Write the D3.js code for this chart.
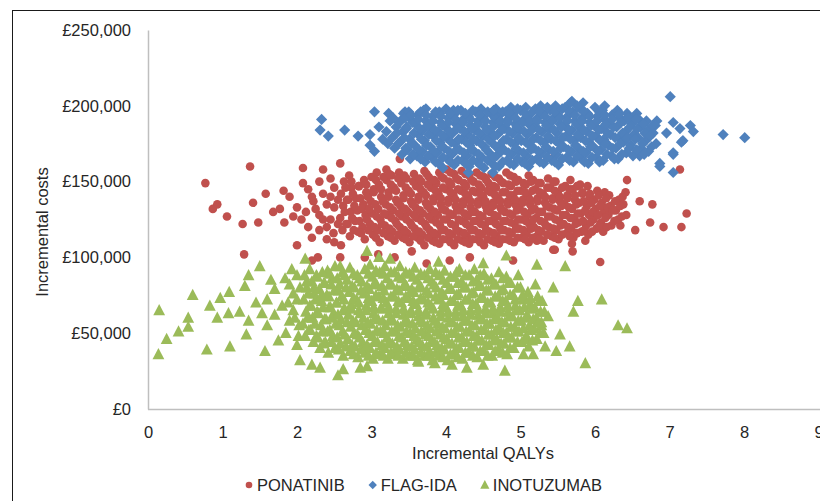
<!DOCTYPE html>
<html><head><meta charset="utf-8">
<script src="https://cdn.jsdelivr.net/npm/d3@7"></script>
<style>
html,body{margin:0;padding:0;background:#fff;}
svg text{font-family:"Liberation Sans",Arial,sans-serif;fill:#262626;}
</style></head>
<body><svg id="chart" width="820" height="501"></svg>
<script>
// Costs are in £ thousands
const xTicks = [0,1,2,3,4,5,6,7,8,9];
const yTicks = [0,50,100,150,200,250];
const seriesNames = ["PONATINIB","FLAG-IDA","INOTUZUMAB"];
const seriesColors = ["#C0504D","#4F81BD","#9BBB59"];

const ponatinib = [
[0.77,149],[1.37,160],[0.87,132],[0.93,135],[1.06,127],[1.27,122],[1.48,123],[1.29,102],[1.41,136],[1.58,142],[1.68,130],[1.77,132],[1.82,144],[1.83,123],[1.95,127],[2.08,159],[2.35,158],[2.58,162],[2.2,113],[2.0,108],[2.49,116],[2.59,108],[2.58,100],[2.06,125],[2.08,149],[2.22,137],[2.28,100],[2.91,100],[3.09,102],[3.31,100],[2.2,98],
[7.23,129],[7.16,120],[7.14,158],[6.92,120],[6.77,135],[6.74,123],[6.54,118],[6.43,151],[6.6,137],[6.34,121],[5.42,165],[5.75,116],[5.69,109],[5.87,111],[5.22,111],[5.44,105],[6.07,97],[3.38,165],[3.2,158],[4.05,98],[4.9,98],[5.46,105],[5.7,104],[3.74,96],[3.54,104],[4.32,100],
[1.9,140],[2.0,133],[2.15,145],[2.3,128],[2.4,120],[2.3,150],[2.45,140],[2.5,133],[2.45,125],
[2.15,120],[2.25,132],[2.35,142],[2.4,112],[2.5,146],[2.55,122],[2.2,140],[2.35,125],[2.5,110],[2.45,152],[2.3,118],[2.55,138],[2.12,130],[2.4,135],
[2.61,118],[2.58,126],[2.62,134],[2.59,142],[2.63,150],
[2.71,114],[2.68,122],[2.72,130],[2.69,138],[2.73,146],[2.7,154],
[2.82,117],[2.78,124],[2.81,131],[2.79,139],[2.83,147],
[2.91,112],[2.88,120],[2.92,128],[2.89,135],[2.93,143],[2.9,151],
[3.02,115],[2.98,122],[3.01,129],[2.99,137],[3.03,145],[3.0,153],
[3.11,110],[3.08,118],[3.12,125],[3.09,132],[3.13,140],[3.1,148],[3.07,156],
[3.22,114],[3.18,121],[3.21,128],[3.19,135],[3.23,143],[3.2,151],
[3.31,111],[3.28,117],[3.32,124],[3.29,131],[3.33,138],[3.3,146],[3.27,154],
[3.42,113],[3.38,120],[3.41,127],[3.39,134],[3.43,141],[3.4,149],[3.37,156],
[3.51,110],[3.48,116],[3.52,123],[3.49,130],[3.53,137],[3.5,144],[3.47,152],
[3.62,113],[3.58,119],[3.61,126],[3.59,133],[3.63,140],[3.6,147],[3.57,155],
[3.71,108],[3.68,115],[3.72,122],[3.69,129],[3.73,136],[3.7,143],[3.67,150],[3.71,157],
[3.82,111],[3.78,118],[3.81,125],[3.79,132],[3.83,139],[3.8,146],[3.77,153],
[3.91,109],[3.88,115],[3.92,121],[3.89,128],[3.93,135],[3.9,142],[3.87,149],[3.91,156],
[4.02,112],[3.98,118],[4.01,125],[3.99,131],[4.03,138],[4.0,145],[3.97,152],[4.01,158],
[4.11,108],[4.08,115],[4.12,121],[4.09,128],[4.13,134],[4.1,141],[4.07,148],[4.11,155],
[4.22,111],[4.18,117],[4.21,124],[4.19,131],[4.23,137],[4.2,144],[4.17,151],[4.21,157],
[4.31,109],[4.28,114],[4.32,120],[4.29,127],[4.33,133],[4.3,140],[4.27,147],[4.31,154],
[4.42,112],[4.38,118],[4.41,124],[4.39,130],[4.43,137],[4.4,143],[4.37,150],[4.41,156],
[4.51,108],[4.48,115],[4.52,121],[4.49,127],[4.53,134],[4.5,140],[4.47,146],[4.51,153],
[4.62,111],[4.58,117],[4.61,124],[4.59,130],[4.63,136],[4.6,143],[4.57,149],[4.61,155],
[4.71,109],[4.68,114],[4.72,120],[4.69,127],[4.73,133],[4.7,139],[4.67,146],[4.71,152],
[4.82,112],[4.78,118],[4.81,124],[4.79,130],[4.83,137],[4.8,143],[4.77,149],[4.81,156],
[4.91,110],[4.88,116],[4.92,122],[4.89,128],[4.93,135],[4.9,141],[4.87,147],[4.91,153],
[5.02,113],[4.98,119],[5.01,125],[4.99,132],[5.03,138],[5.0,144],[4.97,151],
[5.11,110],[5.08,116],[5.12,122],[5.09,128],[5.13,135],[5.1,141],[5.07,148],[5.11,154],
[5.22,114],[5.18,120],[5.21,126],[5.19,132],[5.23,139],[5.2,145],[5.17,151],
[5.31,111],[5.28,117],[5.32,123],[5.29,130],[5.33,136],[5.3,142],[5.27,149],
[5.42,114],[5.38,120],[5.41,127],[5.39,133],[5.43,139],[5.4,146],[5.37,152],
[5.51,112],[5.48,118],[5.52,124],[5.49,131],[5.53,137],[5.5,143],[5.47,150],
[5.62,116],[5.58,122],[5.61,128],[5.59,135],[5.63,141],[5.6,147],
[5.71,113],[5.68,119],[5.72,126],[5.69,132],[5.73,138],[5.7,145],[5.67,151],
[5.82,117],[5.78,123],[5.81,129],[5.79,136],[5.83,142],[5.8,148],
[5.91,115],[5.88,121],[5.92,128],[5.89,134],[5.93,140],[5.9,147],
[6.02,119],[5.98,125],[6.01,132],[5.99,138],[6.03,144],
[6.11,117],[6.08,123],[6.12,130],[6.09,136],[6.13,143],
[6.22,121],[6.18,128],[6.21,134],[6.19,141],
[6.31,125],[6.28,131],[6.32,138],
[6.42,128],[6.38,135],[6.41,143],
// dense core, second layer
[2.66,122],[2.64,130],[2.67,138],[2.65,146],
[2.76,118],[2.74,126],[2.77,134],[2.75,142],[2.73,150],
[2.86,116],[2.84,124],[2.87,132],[2.85,139],[2.83,147],
[2.96,118],[2.94,125],[2.97,132],[2.95,140],[2.93,148],
[3.06,113],[3.04,120],[3.07,127],[3.05,135],[3.03,143],[3.06,151],
[3.16,116],[3.14,122],[3.17,129],[3.15,137],[3.13,145],[3.16,153],
[3.26,113],[3.24,119],[3.27,126],[3.25,133],[3.23,140],[3.26,148],[3.24,155],
[3.36,115],[3.34,122],[3.37,129],[3.35,136],[3.33,144],[3.36,152],
[3.46,112],[3.44,118],[3.47,125],[3.45,132],[3.43,139],[3.46,146],[3.44,154],
[3.56,114],[3.54,121],[3.57,128],[3.55,135],[3.53,142],[3.56,150],
[3.66,111],[3.64,117],[3.67,124],[3.65,131],[3.63,138],[3.66,145],[3.64,152],
[3.76,113],[3.74,120],[3.77,127],[3.75,134],[3.73,141],[3.76,148],[3.74,155],
[3.86,110],[3.84,116],[3.87,123],[3.85,130],[3.83,137],[3.86,144],[3.84,151],
[3.96,112],[3.94,118],[3.97,125],[3.95,132],[3.93,139],[3.96,146],[3.94,153],
[4.06,110],[4.04,116],[4.07,122],[4.05,129],[4.03,136],[4.06,143],[4.04,150],[4.06,156],
[4.16,112],[4.14,118],[4.17,125],[4.15,131],[4.13,138],[4.16,145],[4.14,152],
[4.26,110],[4.24,116],[4.27,122],[4.25,129],[4.23,135],[4.26,142],[4.24,149],[4.26,155],
[4.36,112],[4.34,118],[4.37,124],[4.35,130],[4.33,137],[4.36,144],[4.34,151],
[4.46,110],[4.44,116],[4.47,122],[4.45,128],[4.43,135],[4.46,142],[4.44,148],[4.46,154],
[4.56,112],[4.54,118],[4.57,124],[4.55,131],[4.53,137],[4.56,144],[4.54,151],
[4.66,110],[4.64,116],[4.67,122],[4.65,128],[4.63,134],[4.66,141],[4.64,147],[4.66,153],
[4.76,112],[4.74,118],[4.77,124],[4.75,131],[4.73,137],[4.76,143],[4.74,150],
[4.86,111],[4.84,117],[4.87,123],[4.85,129],[4.83,135],[4.86,141],[4.84,148],[4.86,154],
[4.96,113],[4.94,119],[4.97,125],[4.95,131],[4.93,138],[4.96,144],[4.94,150],
[5.06,112],[5.04,118],[5.07,124],[5.05,130],[5.03,136],[5.06,143],[5.04,149],
[5.16,113],[5.14,119],[5.17,125],[5.15,131],[5.13,138],[5.16,144],[5.14,150],
[5.26,112],[5.24,118],[5.27,124],[5.25,130],[5.23,137],[5.26,143],[5.24,149],
[5.36,115],[5.34,121],[5.37,127],[5.35,134],[5.33,140],[5.36,146],
[5.46,113],[5.44,119],[5.47,125],[5.45,132],[5.43,138],[5.46,144],[5.44,150],
[5.56,115],[5.54,121],[5.57,128],[5.55,134],[5.53,140],[5.56,146],
[5.66,114],[5.64,120],[5.67,126],[5.65,133],[5.63,139],[5.66,145],
[5.76,116],[5.74,122],[5.77,129],[5.75,135],[5.73,141],[5.76,147],
[5.86,118],[5.84,124],[5.87,131],[5.85,137],[5.83,143],
[5.96,117],[5.94,123],[5.97,130],[5.95,136],[5.93,142],
[6.06,121],[6.04,128],[6.07,134],[6.05,141],
[6.16,120],[6.14,126],[6.17,133],[6.15,139],
[6.26,124],[6.24,131],[6.27,137],
[6.36,127],[6.34,134],[6.37,140]
];

const flagIda = [
[2.33,191],[2.31,184],[2.42,180],[2.64,184],[2.82,180],[2.98,181],[3.04,196],[3.04,170],[3.23,195],[3.45,196],[3.73,198],[3.92,195],[4.1,197],[7.01,206],[7.72,181],[8.01,179],[7.28,187],[7.32,183],[7.05,189],[7.18,177],[7.05,169],[6.87,162],[6.6,167],[5.84,202],[5.69,203],[6.13,200],[6.56,195],[6.83,190],[6.96,182],[7.14,185],[3.96,159],[4.3,156],[4.63,156],[7.05,156],[7.05,168],[7.16,176],[6.87,160],
[3.1,186],[3.15,178],[3.2,183],[3.22,175],[3.25,190],[2.98,174],
[3.31,172],[3.28,179],[3.33,186],[3.29,192],
[3.41,168],[3.38,176],[3.42,183],[3.39,190],[3.43,195],
[3.52,165],[3.48,171],[3.51,178],[3.47,185],[3.53,191],[3.5,196],
[3.61,167],[3.58,174],[3.63,181],[3.59,188],[3.62,194],
[3.72,163],[3.68,170],[3.71,177],[3.69,184],[3.73,190],[3.7,197],
[3.81,166],[3.79,173],[3.83,180],[3.78,187],[3.82,193],
[3.9,162],[3.88,169],[3.92,176],[3.89,183],[3.93,189],[3.91,196],
[4.02,165],[3.98,172],[4.01,179],[3.99,186],[4.03,192],[4.0,198],
[4.11,161],[4.08,168],[4.12,175],[4.09,182],[4.13,188],[4.1,194],
[4.22,164],[4.18,171],[4.21,178],[4.19,185],[4.23,191],[4.2,197],
[4.31,160],[4.28,167],[4.32,174],[4.29,181],[4.33,187],[4.3,193],
[4.42,163],[4.38,170],[4.41,177],[4.39,184],[4.43,190],[4.4,196],
[4.51,159],[4.48,166],[4.52,173],[4.49,180],[4.53,186],[4.5,192],[4.47,198],
[4.62,162],[4.58,169],[4.61,176],[4.59,183],[4.63,189],[4.6,195],
[4.71,160],[4.68,167],[4.72,174],[4.69,181],[4.73,187],[4.7,193],[4.67,198],
[4.82,164],[4.78,171],[4.81,178],[4.79,185],[4.83,191],[4.8,196],
[4.91,161],[4.88,168],[4.92,175],[4.89,182],[4.93,188],[4.9,194],[4.87,199],
[5.02,163],[4.98,170],[5.01,177],[4.99,184],[5.03,190],[5.0,197],
[5.11,160],[5.08,167],[5.12,174],[5.09,181],[5.13,187],[5.1,193],[5.07,199],
[5.22,165],[5.18,172],[5.21,179],[5.19,186],[5.23,192],[5.2,198],
[5.31,162],[5.28,169],[5.32,176],[5.29,183],[5.33,189],[5.3,195],[5.27,200],
[5.42,164],[5.38,171],[5.41,178],[5.39,185],[5.43,191],[5.4,197],
[5.51,161],[5.48,168],[5.52,175],[5.49,182],[5.53,188],[5.5,194],[5.47,200],
[5.62,166],[5.58,173],[5.61,180],[5.59,187],[5.63,193],[5.6,199],
[5.71,163],[5.68,170],[5.72,177],[5.69,184],[5.73,190],[5.7,196],[5.67,202],
[5.82,165],[5.78,172],[5.81,179],[5.79,186],[5.83,192],[5.8,198],
[5.91,162],[5.88,169],[5.92,176],[5.89,183],[5.93,189],[5.9,195],
[6.02,166],[5.98,173],[6.01,180],[5.99,187],[6.03,193],[6.0,199],
[6.11,164],[6.08,171],[6.12,178],[6.09,185],[6.13,191],[6.1,197],
[6.22,167],[6.18,174],[6.21,181],[6.19,188],[6.23,194],
[6.31,165],[6.28,172],[6.32,179],[6.29,186],[6.33,192],[6.3,197],
[6.42,169],[6.38,176],[6.41,183],[6.39,190],[6.43,195],
[6.51,167],[6.48,174],[6.52,181],[6.49,188],[6.53,193],
[6.62,172],[6.58,179],[6.61,186],[6.59,191],
[6.72,170],[6.68,177],[6.71,184],[6.69,190],
[6.82,175],[6.78,182],[6.81,187],
// dense core, second layer
[3.36,175],[3.34,182],[3.37,189],
[3.46,172],[3.44,179],[3.47,186],[3.45,192],
[3.56,168],[3.54,175],[3.57,182],[3.55,189],[3.53,194],
[3.66,165],[3.64,171],[3.67,178],[3.65,185],[3.63,191],[3.66,196],
[3.76,167],[3.74,174],[3.77,181],[3.75,187],[3.73,194],
[3.86,163],[3.84,170],[3.87,177],[3.85,184],[3.83,190],[3.86,196],
[3.96,166],[3.94,173],[3.97,180],[3.95,187],[3.93,193],
[4.06,163],[4.04,170],[4.07,176],[4.05,183],[4.03,189],[4.06,195],
[4.16,164],[4.14,171],[4.17,178],[4.15,185],[4.13,191],[4.16,197],
[4.26,162],[4.24,169],[4.27,176],[4.25,183],[4.23,189],[4.26,195],
[4.36,164],[4.34,171],[4.37,178],[4.35,185],[4.33,191],[4.36,197],
[4.46,161],[4.44,168],[4.47,175],[4.45,182],[4.43,188],[4.46,194],
[4.56,164],[4.54,171],[4.57,178],[4.55,184],[4.53,190],[4.56,196],
[4.66,160],[4.64,166],[4.67,173],[4.65,180],[4.63,186],[4.66,192],[4.64,197],
[4.76,163],[4.74,170],[4.77,177],[4.75,184],[4.73,190],[4.76,196],
[4.86,162],[4.84,169],[4.87,176],[4.85,183],[4.83,189],[4.86,195],
[4.96,165],[4.94,172],[4.97,179],[4.95,186],[4.93,192],[4.96,198],
[5.06,162],[5.04,169],[5.07,176],[5.05,183],[5.03,189],[5.06,195],
[5.16,164],[5.14,171],[5.17,178],[5.15,184],[5.13,190],[5.16,196],
[5.26,163],[5.24,170],[5.27,177],[5.25,184],[5.23,190],[5.26,196],
[5.36,166],[5.34,173],[5.37,180],[5.35,187],[5.33,193],[5.36,199],
[5.46,163],[5.44,170],[5.47,177],[5.45,184],[5.43,190],[5.46,196],
[5.56,165],[5.54,172],[5.57,179],[5.55,186],[5.53,192],[5.56,198],
[5.66,164],[5.64,171],[5.67,178],[5.65,184],[5.63,190],[5.66,196],
[5.76,167],[5.74,174],[5.77,181],[5.75,188],[5.73,194],[5.76,200],
[5.86,163],[5.84,170],[5.87,177],[5.85,184],[5.83,190],[5.86,196],
[5.96,166],[5.94,173],[5.97,180],[5.95,187],[5.93,193],
[6.06,163],[6.04,170],[6.07,177],[6.05,184],[6.03,190],[6.06,196],
[6.16,168],[6.14,175],[6.17,182],[6.15,188],[6.13,194],
[6.26,165],[6.24,172],[6.27,179],[6.25,186],[6.23,191],
[6.36,168],[6.34,175],[6.37,182],[6.35,189],[6.33,195],
[6.46,172],[6.44,179],[6.47,186],[6.45,192],
[6.56,171],[6.54,178],[6.57,185],[6.55,191],
[6.66,168],[6.64,175],[6.67,182],[6.65,188],
[6.76,173],[6.74,180],[6.77,187]
];

const inotuzumab = [
[0.15,65],[0.14,36],[0.25,46],[0.41,51],[0.54,54],[0.54,60],[0.6,75],[0.79,39],[0.83,68],[0.93,60],[1.08,63],[1.1,41],[1.09,77],[1.23,64],[1.3,81],[1.35,88],[1.5,94],[1.35,58],[1.32,49],[1.53,63],[1.57,38],[1.7,79],[1.84,86],[1.93,92],[2.11,99],[2.04,32],[2.2,29],[2.31,27],[2.55,22],[2.62,26],[2.85,27],[2.94,28],[2.58,94],
[6.43,53],[6.31,55],[6.09,72],[5.87,30],[5.6,94],[5.22,95],[4.81,101],[5.77,71],[5.66,41],[5.48,38],[5.53,49],[5.33,41],[5.17,36],[5.04,36],[4.79,25],[4.5,29],[4.28,27],[4.08,29],[3.85,30],[3.63,31],[5.71,64],[5.37,61],[5.28,55],[5.44,80],[2.94,104],[3.1,100],
[1.45,70],[1.6,55],[1.65,85],[1.75,45],[1.8,68],[1.9,58],[1.95,76],[1.7,62],[1.85,50],[2.0,88],[2.0,42],[1.6,72],[0.97,73],[3.25,99],[3.9,97],[4.5,96],
[1.95,65],[2.0,72],[2.03,55],[1.9,82],[2.02,48],[1.97,60],[2.04,80],[1.88,70],
[2.11,48],[2.08,56],[2.12,64],[2.09,72],[2.13,80],[2.1,88],
[2.22,44],[2.18,52],[2.21,60],[2.19,68],[2.23,76],[2.2,84],[2.17,92],
[2.31,40],[2.28,47],[2.32,55],[2.29,63],[2.33,71],[2.3,79],[2.27,87],
[2.42,37],[2.38,44],[2.41,51],[2.39,59],[2.43,67],[2.4,75],[2.37,83],[2.41,91],
[2.51,40],[2.48,48],[2.52,56],[2.49,63],[2.53,70],[2.5,78],[2.47,86],[2.51,94],
[2.62,35],[2.58,43],[2.61,51],[2.59,59],[2.63,66],[2.6,74],[2.57,82],[2.61,90],
[2.71,38],[2.68,46],[2.72,54],[2.69,62],[2.73,69],[2.7,77],[2.67,85],[2.71,93],
[2.82,34],[2.78,41],[2.81,49],[2.79,57],[2.83,65],[2.8,72],[2.77,80],[2.81,88],
[2.91,37],[2.88,44],[2.92,52],[2.89,60],[2.93,68],[2.9,76],[2.87,84],[2.91,92],
[3.02,33],[2.98,40],[3.01,48],[2.99,56],[3.03,63],[3.0,71],[2.97,79],[3.01,87],[2.98,95],
[3.11,36],[3.08,44],[3.12,51],[3.09,59],[3.13,67],[3.1,74],[3.07,82],[3.11,90],
[3.22,33],[3.18,40],[3.21,47],[3.19,55],[3.23,63],[3.2,70],[3.17,78],[3.21,86],[3.18,94],
[3.31,36],[3.28,43],[3.32,51],[3.29,58],[3.33,66],[3.3,74],[3.27,82],[3.31,90],
[3.42,33],[3.38,39],[3.41,47],[3.39,54],[3.43,62],[3.4,70],[3.37,78],[3.41,86],[3.38,94],
[3.51,35],[3.48,42],[3.52,50],[3.49,57],[3.53,65],[3.5,73],[3.47,81],[3.51,89],
[3.62,32],[3.58,39],[3.61,46],[3.59,53],[3.63,61],[3.6,69],[3.57,77],[3.61,85],[3.58,93],
[3.71,35],[3.68,42],[3.72,49],[3.69,57],[3.73,64],[3.7,72],[3.67,80],[3.71,88],
[3.82,32],[3.78,38],[3.81,45],[3.79,53],[3.83,60],[3.8,68],[3.77,76],[3.81,84],[3.78,92],
[3.91,35],[3.88,42],[3.92,49],[3.89,56],[3.93,64],[3.9,72],[3.87,80],[3.91,88],
[4.02,32],[3.98,39],[4.01,46],[3.99,53],[4.03,60],[4.0,67],[3.97,75],[4.01,83],[3.98,91],
[4.11,36],[4.08,43],[4.12,50],[4.09,57],[4.13,64],[4.1,71],[4.07,79],[4.11,87],
[4.22,33],[4.18,40],[4.21,47],[4.19,54],[4.23,61],[4.2,68],[4.17,76],[4.21,84],[4.18,92],
[4.31,37],[4.28,44],[4.32,51],[4.29,58],[4.33,65],[4.3,72],[4.27,80],[4.31,88],
[4.42,34],[4.38,41],[4.41,48],[4.39,55],[4.43,62],[4.4,69],[4.37,77],[4.41,85],[4.38,92],
[4.51,38],[4.48,45],[4.52,52],[4.49,59],[4.53,66],[4.5,73],[4.47,81],[4.51,89],
[4.62,35],[4.58,42],[4.61,49],[4.59,56],[4.63,63],[4.6,70],[4.57,78],[4.61,86],
[4.71,39],[4.68,46],[4.72,53],[4.69,60],[4.73,67],[4.7,74],[4.67,82],[4.71,90],
[4.82,36],[4.78,43],[4.81,50],[4.79,57],[4.83,64],[4.8,71],[4.77,79],[4.81,87],
[4.91,40],[4.88,47],[4.92,54],[4.89,61],[4.93,68],[4.9,75],[4.87,83],
[5.02,44],[4.98,51],[5.01,58],[4.99,65],[5.03,72],[5.0,80],[4.97,88],
[5.11,41],[5.08,48],[5.12,55],[5.09,62],[5.13,69],[5.1,77],
[5.22,46],[5.18,53],[5.21,60],[5.19,67],[5.23,74],[5.2,82],
[5.31,50],[5.28,57],[5.32,64],[5.29,71],
// dense core, second layer
[2.16,52],[2.14,60],[2.17,68],[2.15,76],[2.13,84],
[2.26,48],[2.24,56],[2.27,64],[2.25,72],[2.23,80],[2.26,88],
[2.36,43],[2.34,51],[2.37,59],[2.35,67],[2.33,75],[2.36,83],[2.34,90],
[2.46,44],[2.44,52],[2.47,60],[2.45,67],[2.43,74],[2.46,82],[2.44,89],
[2.56,39],[2.54,47],[2.57,55],[2.55,62],[2.53,70],[2.56,78],[2.54,86],
[2.66,41],[2.64,49],[2.67,57],[2.65,65],[2.63,72],[2.66,80],[2.64,88],
[2.76,36],[2.74,42],[2.77,50],[2.75,58],[2.73,66],[2.76,73],[2.74,81],[2.76,89],
[2.86,39],[2.84,47],[2.87,55],[2.85,63],[2.83,70],[2.86,78],[2.84,86],
[2.96,35],[2.94,42],[2.97,50],[2.95,57],[2.93,65],[2.96,73],[2.94,81],[2.96,89],
[3.06,37],[3.04,44],[3.07,52],[3.05,60],[3.03,67],[3.06,75],[3.04,83],[3.06,91],
[3.16,35],[3.14,42],[3.17,50],[3.15,58],[3.13,66],[3.16,73],[3.14,81],[3.16,89],
[3.26,37],[3.24,44],[3.27,51],[3.25,59],[3.23,67],[3.26,74],[3.24,82],[3.26,90],
[3.36,35],[3.34,41],[3.37,48],[3.35,55],[3.33,63],[3.36,71],[3.34,79],[3.36,87],
[3.46,37],[3.44,44],[3.47,51],[3.45,58],[3.43,66],[3.46,74],[3.44,82],[3.46,90],
[3.56,35],[3.54,41],[3.57,48],[3.55,56],[3.53,63],[3.56,71],[3.54,79],[3.56,87],
[3.66,37],[3.64,44],[3.67,51],[3.65,58],[3.63,65],[3.66,73],[3.64,81],[3.66,89],
[3.76,35],[3.74,41],[3.77,48],[3.75,55],[3.73,62],[3.76,70],[3.74,78],[3.76,86],
[3.86,37],[3.84,44],[3.87,51],[3.85,58],[3.83,66],[3.86,74],[3.84,82],[3.86,90],
[3.96,34],[3.94,40],[3.97,47],[3.95,54],[3.93,61],[3.96,69],[3.94,77],[3.96,85],
[4.06,36],[4.04,43],[4.07,50],[4.05,57],[4.03,64],[4.06,71],[4.04,79],[4.06,87],
[4.16,34],[4.14,40],[4.17,47],[4.15,54],[4.13,61],[4.16,68],[4.14,75],[4.16,83],[4.14,90],
[4.26,37],[4.24,44],[4.27,51],[4.25,58],[4.23,65],[4.26,72],[4.24,80],[4.26,88],
[4.36,35],[4.34,41],[4.37,48],[4.35,55],[4.33,62],[4.36,69],[4.34,76],[4.36,84],
[4.46,38],[4.44,45],[4.47,52],[4.45,59],[4.43,66],[4.46,73],[4.44,81],[4.46,88],
[4.56,35],[4.54,42],[4.57,49],[4.55,56],[4.53,63],[4.56,70],[4.54,78],[4.56,85],
[4.66,38],[4.64,45],[4.67,52],[4.65,59],[4.63,66],[4.66,74],[4.64,82],
[4.76,37],[4.74,43],[4.77,50],[4.75,57],[4.73,64],[4.76,71],[4.74,78],[4.76,86],
[4.86,40],[4.84,47],[4.87,54],[4.85,61],[4.83,68],[4.86,75],[4.84,83],
[4.96,44],[4.94,51],[4.97,58],[4.95,65],[4.93,72],[4.96,80],
[5.06,46],[5.04,53],[5.07,60],[5.05,67],[5.03,75],
[5.16,45],[5.14,52],[5.17,59],[5.15,66],[5.13,73],
[5.26,50],[5.24,57],[5.27,64],[5.25,71]
];

const svg = d3.select("#chart");
const x = d3.scaleLinear().domain([0,9]).range([148,818.5]);
const y = d3.scaleLinear().domain([0,250]).range([409,30]);

// outer frame
svg.append("rect").attr("x",12.5).attr("y",10.5).attr("width",830).attr("height",520)
  .attr("fill","none").attr("stroke","#1a1a1a").attr("stroke-width",1);

// axes
const fmt = d3.format(",");
const gy = svg.append("g").attr("transform","translate(148,0)")
  .call(d3.axisLeft(y).tickValues(yTicks).tickSize(0).tickPadding(17).tickFormat(d=>"£"+fmt(d*1000)));
const gx = svg.append("g").attr("transform","translate(0,409)")
  .call(d3.axisBottom(x).tickValues(xTicks).tickSize(0).tickPadding(17).tickFormat(d3.format("d")));
[gx,gy].forEach(g=>{
  g.select(".domain").attr("stroke","#bfbfbf").attr("stroke-width",1.5);
  g.selectAll("text").attr("font-size","16.5px").attr("fill","#262626")
    .attr("font-family","'Liberation Sans',Arial,sans-serif");
});
gx.select(".domain").attr("d","M148,0.5H820");

// marker shapes
const shapes = [
  (r)=>`M${-r},0A${r},${r} 0 1,0 ${r},0A${r},${r} 0 1,0 ${-r},0Z`,
  (r)=>`M0,${-r}L${r},0L0,${r}L${-r},0Z`,
  (r)=>`M0,${-r*1.1}L${r},${r*0.8}L${-r},${r*0.8}Z`
];
const markerR = [4.3,5.6,5.9];
const seriesData = [ponatinib, flagIda, inotuzumab];

seriesData.forEach((data,i)=>{
  svg.append("g").selectAll("path").data(data).join("path")
    .attr("transform",d=>`translate(${x(d[0])},${y(d[1])})`)
    .attr("d",shapes[i](markerR[i]))
    .attr("fill",seriesColors[i]);
});

// axis titles
svg.append("text").attr("x",483).attr("y",459).attr("text-anchor","middle")
  .attr("font-size","16.5px").text("Incremental QALYs");
svg.append("text").attr("transform","translate(48,232) rotate(-90)").attr("text-anchor","middle")
  .attr("font-size","16.5px").text("Incremental costs");

// legend
const legR = [3.3,4.2,4.6];
let lx = 245;
seriesNames.forEach((name,i)=>{
  svg.append("path").attr("transform",`translate(${lx+4},485)`).attr("d",shapes[i](legR[i])).attr("fill",seriesColors[i]);
  const t = svg.append("text").attr("x",lx+12).attr("y",491).attr("font-size","16.5px").text(name);
  lx += 12 + t.node().getComputedTextLength() + 24;
});
</script></body></html>
